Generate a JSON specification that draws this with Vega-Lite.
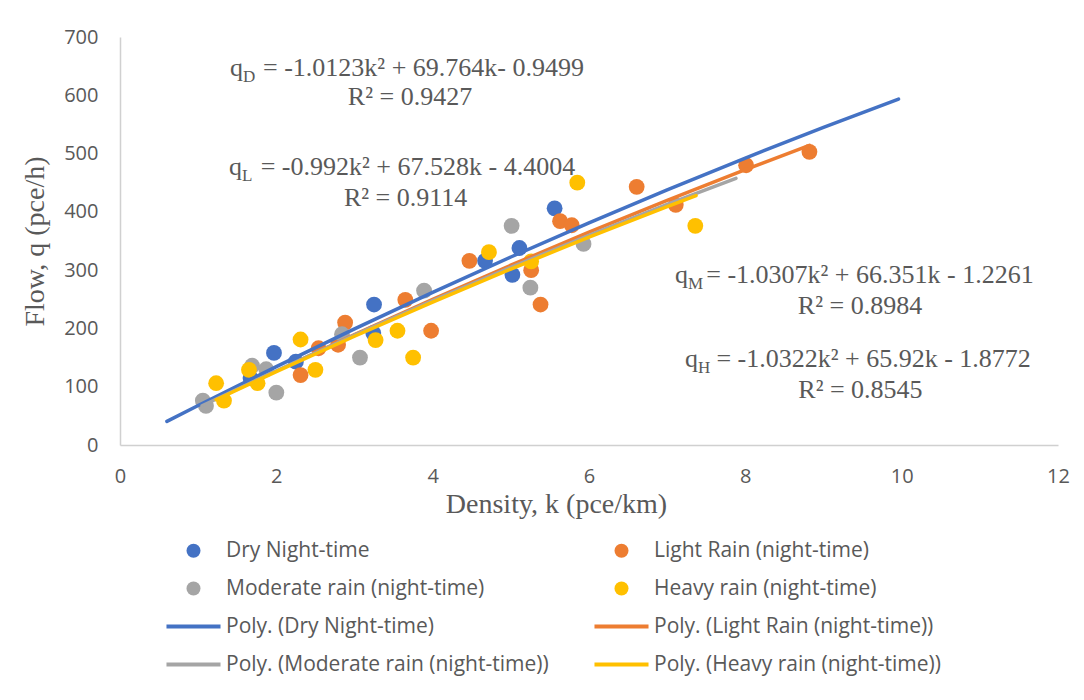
{
  "$schema": "https://vega.github.io/schema/vega-lite/v6.json",
  "width": 938,
  "height": 408,
  "autosize": {"type": "none"},
  "padding": {"left": 120, "top": 37, "right": 26, "bottom": 255},
  "background": "white",
  "config": {"view": {"stroke": null}, "font": "Open Sans"},
  "datasets": {
    "points": [
      {"series": "Dry Night-time", "k": 1.67, "q": 115},
      {"series": "Dry Night-time", "k": 1.97, "q": 158},
      {"series": "Dry Night-time", "k": 2.25, "q": 143},
      {"series": "Dry Night-time", "k": 3.25, "q": 241},
      {"series": "Dry Night-time", "k": 3.24, "q": 192},
      {"series": "Dry Night-time", "k": 4.67, "q": 316},
      {"series": "Dry Night-time", "k": 5.02, "q": 292},
      {"series": "Dry Night-time", "k": 5.11, "q": 338},
      {"series": "Dry Night-time", "k": 5.56, "q": 406},
      {"series": "Light Rain (night-time)", "k": 2.31, "q": 120},
      {"series": "Light Rain (night-time)", "k": 2.54, "q": 166},
      {"series": "Light Rain (night-time)", "k": 2.79, "q": 172},
      {"series": "Light Rain (night-time)", "k": 2.88, "q": 210},
      {"series": "Light Rain (night-time)", "k": 3.65, "q": 249},
      {"series": "Light Rain (night-time)", "k": 3.98, "q": 196},
      {"series": "Light Rain (night-time)", "k": 4.47, "q": 316},
      {"series": "Light Rain (night-time)", "k": 5.26, "q": 300},
      {"series": "Light Rain (night-time)", "k": 5.38, "q": 241},
      {"series": "Light Rain (night-time)", "k": 5.63, "q": 384},
      {"series": "Light Rain (night-time)", "k": 5.78, "q": 377},
      {"series": "Light Rain (night-time)", "k": 6.61, "q": 443},
      {"series": "Light Rain (night-time)", "k": 7.11, "q": 412},
      {"series": "Light Rain (night-time)", "k": 8.01, "q": 480},
      {"series": "Light Rain (night-time)", "k": 8.82, "q": 503},
      {"series": "Moderate rain (night-time)", "k": 1.06, "q": 76},
      {"series": "Moderate rain (night-time)", "k": 1.1, "q": 67},
      {"series": "Moderate rain (night-time)", "k": 1.69, "q": 136},
      {"series": "Moderate rain (night-time)", "k": 1.87, "q": 130},
      {"series": "Moderate rain (night-time)", "k": 2.0, "q": 90},
      {"series": "Moderate rain (night-time)", "k": 2.84, "q": 190},
      {"series": "Moderate rain (night-time)", "k": 3.07, "q": 150},
      {"series": "Moderate rain (night-time)", "k": 3.89, "q": 265},
      {"series": "Moderate rain (night-time)", "k": 5.01, "q": 376},
      {"series": "Moderate rain (night-time)", "k": 5.25, "q": 270},
      {"series": "Moderate rain (night-time)", "k": 5.93, "q": 345},
      {"series": "Heavy rain (night-time)", "k": 1.23, "q": 106},
      {"series": "Heavy rain (night-time)", "k": 1.33, "q": 76},
      {"series": "Heavy rain (night-time)", "k": 1.65, "q": 129},
      {"series": "Heavy rain (night-time)", "k": 1.76, "q": 106},
      {"series": "Heavy rain (night-time)", "k": 2.31, "q": 181},
      {"series": "Heavy rain (night-time)", "k": 2.5, "q": 129},
      {"series": "Heavy rain (night-time)", "k": 3.27, "q": 180},
      {"series": "Heavy rain (night-time)", "k": 3.55, "q": 196},
      {"series": "Heavy rain (night-time)", "k": 3.75, "q": 150},
      {"series": "Heavy rain (night-time)", "k": 4.72, "q": 331},
      {"series": "Heavy rain (night-time)", "k": 5.26, "q": 315},
      {"series": "Heavy rain (night-time)", "k": 5.85, "q": 450},
      {"series": "Heavy rain (night-time)", "k": 7.36, "q": 376}
    ],
    "trends": [
      {"series": "Poly. (Dry Night-time)", "k": 0.6, "q": 40.54},
      {"series": "Poly. (Dry Night-time)", "k": 1, "q": 67.8},
      {"series": "Poly. (Dry Night-time)", "k": 2, "q": 134.53},
      {"series": "Poly. (Dry Night-time)", "k": 3, "q": 199.23},
      {"series": "Poly. (Dry Night-time)", "k": 4, "q": 261.91},
      {"series": "Poly. (Dry Night-time)", "k": 5, "q": 322.56},
      {"series": "Poly. (Dry Night-time)", "k": 6, "q": 381.19},
      {"series": "Poly. (Dry Night-time)", "k": 7, "q": 437.8},
      {"series": "Poly. (Dry Night-time)", "k": 8, "q": 492.37},
      {"series": "Poly. (Dry Night-time)", "k": 9, "q": 544.93},
      {"series": "Poly. (Dry Night-time)", "k": 9.96, "q": 593.48},
      {"series": "Poly. (Light Rain (night-time))", "k": 2.31, "q": 146.3},
      {"series": "Poly. (Light Rain (night-time))", "k": 3, "q": 189.26},
      {"series": "Poly. (Light Rain (night-time))", "k": 4, "q": 249.84},
      {"series": "Poly. (Light Rain (night-time))", "k": 5, "q": 308.44},
      {"series": "Poly. (Light Rain (night-time))", "k": 6, "q": 365.06},
      {"series": "Poly. (Light Rain (night-time))", "k": 7, "q": 419.69},
      {"series": "Poly. (Light Rain (night-time))", "k": 8, "q": 472.34},
      {"series": "Poly. (Light Rain (night-time))", "k": 8.82, "q": 514.03},
      {"series": "Poly. (Moderate rain (night-time))", "k": 1.05, "q": 67.31},
      {"series": "Poly. (Moderate rain (night-time))", "k": 2, "q": 127.35},
      {"series": "Poly. (Moderate rain (night-time))", "k": 3, "q": 188.55},
      {"series": "Poly. (Moderate rain (night-time))", "k": 4, "q": 247.69},
      {"series": "Poly. (Moderate rain (night-time))", "k": 5, "q": 304.76},
      {"series": "Poly. (Moderate rain (night-time))", "k": 6, "q": 359.78},
      {"series": "Poly. (Moderate rain (night-time))", "k": 7, "q": 412.73},
      {"series": "Poly. (Moderate rain (night-time))", "k": 7.88, "q": 457.62},
      {"series": "Poly. (Heavy rain (night-time))", "k": 1.23, "q": 77.64},
      {"series": "Poly. (Heavy rain (night-time))", "k": 2, "q": 125.83},
      {"series": "Poly. (Heavy rain (night-time))", "k": 3, "q": 186.59},
      {"series": "Poly. (Heavy rain (night-time))", "k": 4, "q": 245.29},
      {"series": "Poly. (Heavy rain (night-time))", "k": 5, "q": 301.92},
      {"series": "Poly. (Heavy rain (night-time))", "k": 6, "q": 356.48},
      {"series": "Poly. (Heavy rain (night-time))", "k": 7, "q": 408.98},
      {"series": "Poly. (Heavy rain (night-time))", "k": 7.37, "q": 427.89}
    ],
    "eqq": [
      {"k": 1.407, "q": 633, "sub": "D"},
      {"k": 1.394, "q": 463, "sub": "L"},
      {"k": 7.1, "q": 278.5, "sub": "M"},
      {"k": 7.228, "q": 133.3, "sub": "H"}
    ],
    "eqrest": [
      {"k": 1.83, "q": 633, "txt": "= -1.0123k² + 69.764k- 0.9499"},
      {"k": 1.8, "q": 463, "txt": "= -0.992k² + 67.528k - 4.4004"},
      {"k": 7.5, "q": 278.5, "txt": "= -1.0307k² + 66.351k - 1.2261"},
      {"k": 7.63, "q": 133.3, "txt": "= -1.0322k² + 65.92k - 1.8772"}
    ],
    "r2": [
      {"k": 3.71, "q": 583, "txt": "R² = 0.9427"},
      {"k": 3.654, "q": 409.2, "txt": "R² = 0.9114"},
      {"k": 9.467, "q": 224.8, "txt": "R² = 0.8984"},
      {"k": 9.473, "q": 80.1, "txt": "R² = 0.8545"}
    ]
  },
  "layer": [
    {
      "data": {"name": "points"},
      "mark": {"type": "point", "filled": true, "size": 250, "opacity": 1},
      "encoding": {
        "x": {
          "field": "k", "type": "quantitative",
          "scale": {"domain": [0, 12], "nice": false, "zero": false},
          "axis": {
            "title": "Density, k (pce/km)",
            "values": [0, 2, 4, 6, 8, 10, 12], "format": "d",
            "grid": false, "ticks": false, "tickSize": 0,
            "domainColor": "#D0D0D0", "domainWidth": 1.5,
            "labelFont": "Open Sans", "labelFontSize": 20, "labelColor": "#595959",
            "labelPadding": 21, "labelFlush": false, "labelOverlap": false,
            "titleFont": "Liberation Serif", "titleFontSize": 28, "titleFontWeight": "normal",
            "titleColor": "#595959", "titleX": 436, "titleY": 67, "titleAlign": "center",
            "titleBaseline": "alphabetic"
          }
        },
        "y": {
          "field": "q", "type": "quantitative",
          "scale": {"domain": [0, 700], "nice": false},
          "axis": {
            "title": "Flow, q (pce/h)",
            "values": [0, 100, 200, 300, 400, 500, 600, 700], "format": "d",
            "grid": false, "ticks": false, "tickSize": 0,
            "domainColor": "#D0D0D0", "domainWidth": 1.5,
            "labelFont": "Open Sans", "labelFontSize": 20, "labelColor": "#595959",
            "labelPadding": 22, "labelFlush": false, "labelOverlap": false,
            "titleFont": "Liberation Serif", "titleFontSize": 28, "titleFontWeight": "normal",
            "titleColor": "#595959", "titleX": -77, "titleY": 204, "titleAngle": -90,
            "titleAlign": "center", "titleBaseline": "alphabetic"
          }
        },
        "color": {
          "field": "series", "type": "nominal",
          "scale": {
            "domain": ["Dry Night-time", "Light Rain (night-time)", "Moderate rain (night-time)", "Heavy rain (night-time)", "Poly. (Dry Night-time)", "Poly. (Light Rain (night-time))", "Poly. (Moderate rain (night-time))", "Poly. (Heavy rain (night-time))"],
            "range": ["#4472C4", "#ED7D31", "#A5A5A5", "#FFC000", "#4472C4", "#ED7D31", "#A5A5A5", "#FFC000"]
          },
          "legend": {
            "title": null, "orient": "none", "legendX": 63, "legendY": 503, "direction": "horizontal",
            "columns": 2, "symbolSize": 196, "labelFont": "Open Sans", "labelFontSize": 21,
            "labelColor": "#595959", "labelOffset": 22, "columnPadding": 45, "rowPadding": 16,
            "symbolStrokeWidth": 0, "padding": 0, "labelLimit": 600
          }
        },
        "shape": {
          "field": "series", "type": "nominal",
          "scale": {
            "domain": ["Dry Night-time", "Light Rain (night-time)", "Moderate rain (night-time)", "Heavy rain (night-time)", "Poly. (Dry Night-time)", "Poly. (Light Rain (night-time))", "Poly. (Moderate rain (night-time))", "Poly. (Heavy rain (night-time))"],
            "range": ["circle", "circle", "circle", "circle", "M-3.86,-0.28H3.86V0.28H-3.86Z", "M-3.86,-0.28H3.86V0.28H-3.86Z", "M-3.86,-0.28H3.86V0.28H-3.86Z", "M-3.86,-0.28H3.86V0.28H-3.86Z"]
          },
          "legend": {
            "title": null, "orient": "none", "legendX": 63, "legendY": 503, "direction": "horizontal",
            "columns": 2, "symbolSize": 196, "labelFont": "Open Sans", "labelFontSize": 21,
            "labelColor": "#595959", "labelOffset": 22, "columnPadding": 45, "rowPadding": 16,
            "symbolStrokeWidth": 0, "padding": 0, "labelLimit": 600
          }
        }
      }
    },
    {
      "data": {"name": "trends"},
      "mark": {"type": "line", "strokeWidth": 3.5, "strokeCap": "round"},
      "encoding": {
        "x": {"field": "k", "type": "quantitative"},
        "y": {"field": "q", "type": "quantitative"},
        "color": {"field": "series", "type": "nominal", "legend": null}
      }
    },
    {
      "data": {"name": "eqq"},
      "mark": {"type": "text", "text": "q", "align": "left", "baseline": "alphabetic", "font": "Liberation Serif", "fontSize": 26, "color": "#595959"},
      "encoding": {
        "x": {"field": "k", "type": "quantitative"},
        "y": {"field": "q", "type": "quantitative"}
      }
    },
    {
      "data": {"name": "eqq"},
      "mark": {"type": "text", "align": "left", "baseline": "alphabetic", "font": "Liberation Serif", "fontSize": 17, "color": "#595959", "dx": 13, "dy": 6},
      "encoding": {
        "x": {"field": "k", "type": "quantitative"},
        "y": {"field": "q", "type": "quantitative"},
        "text": {"field": "sub"}
      }
    },
    {
      "data": {"name": "eqrest"},
      "mark": {"type": "text", "align": "left", "baseline": "alphabetic", "font": "Liberation Serif", "fontSize": 26, "color": "#595959"},
      "encoding": {
        "x": {"field": "k", "type": "quantitative"},
        "y": {"field": "q", "type": "quantitative"},
        "text": {"field": "txt"}
      }
    },
    {
      "data": {"name": "r2"},
      "mark": {"type": "text", "align": "center", "baseline": "alphabetic", "font": "Liberation Serif", "fontSize": 26, "color": "#595959"},
      "encoding": {
        "x": {"field": "k", "type": "quantitative"},
        "y": {"field": "q", "type": "quantitative"},
        "text": {"field": "txt"}
      }
    }
  ]
}
